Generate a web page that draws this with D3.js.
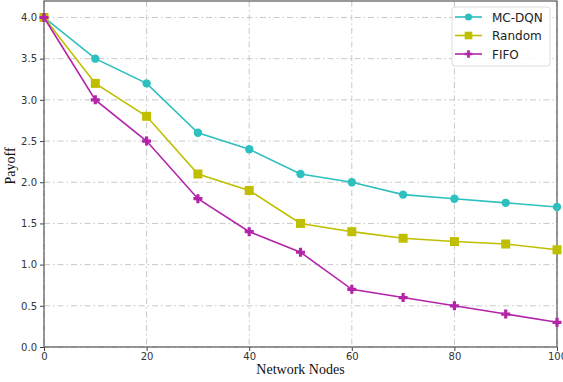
<!DOCTYPE html>
<html>
<head>
<meta charset="utf-8">
<script src="https://cdn.jsdelivr.net/npm/d3@7"></script>
<style>
  body { margin: 0; background: #fff; }
  svg { display: block; }
</style>
</head>
<body>
<div id="chart"></div>
<script>
// data
var nodes = [0, 10, 20, 30, 40, 50, 60, 70, 80, 90, 100];
var mcdqn = [4.0, 3.5, 3.2, 2.6, 2.4, 2.1, 2.0, 1.85, 1.8, 1.75, 1.7];
var random = [4.0, 3.2, 2.8, 2.1, 1.9, 1.5, 1.4, 1.32, 1.28, 1.25, 1.18];
var fifo = [4.0, 3.0, 2.5, 1.8, 1.4, 1.15, 0.7, 0.6, 0.5, 0.4, 0.3];
var xTicks = [0, 20, 40, 60, 80, 100];
var yTicks = [0, 0.5, 1.0, 1.5, 2.0, 2.5, 3.0, 3.5, 4.0];

var series = [
    { name: "MC-DQN", values: mcdqn, color: "#2ebfbf", marker: "circle" },
    { name: "Random", values: random, color: "#bfbf00", marker: "square" },
    { name: "FIFO", values: fifo, color: "#b324a8", marker: "plus" }
];

var margin = { top: 1, right: 6, bottom: 35, left: 44 },
    width = 563 - margin.left - margin.right,
    height = 382 - margin.top - margin.bottom;

var svg = d3.select("#chart")
    .append("svg")
    .attr("width", 563)
    .attr("height", 382)
    .append("g")
    .attr("transform", "translate(" + margin.left + "," + margin.top + ")");

var x = d3.scaleLinear().domain([0, 100]).range([0, width]);
var y = d3.scaleLinear().domain([0, 4.2]).range([height, 0]);

// grid
svg.append("g")
    .selectAll("line")
    .data(xTicks)
    .join("line")
    .attr("x1", d => x(d)).attr("x2", d => x(d))
    .attr("y1", 0).attr("y2", height)
    .attr("stroke", "#c8c8c8")
    .attr("stroke-width", 1)
    .attr("stroke-dasharray", "6,3,1.5,3");
svg.append("g")
    .selectAll("line")
    .data(yTicks)
    .join("line")
    .attr("x1", 0).attr("x2", width)
    .attr("y1", d => y(d)).attr("y2", d => y(d))
    .attr("stroke", "#c8c8c8")
    .attr("stroke-width", 1)
    .attr("stroke-dasharray", "6,3,1.5,3");

// axes
var xAxis = svg.append("g")
    .attr("transform", "translate(0," + height + ")")
    .call(d3.axisBottom(x).tickValues(xTicks).tickSize(4).tickPadding(2));
var yAxis = svg.append("g")
    .call(d3.axisLeft(y).tickValues(yTicks).tickFormat(d3.format(".1f")).tickSize(4).tickPadding(3));
[xAxis, yAxis].forEach(a => {
    a.select(".domain").remove();
    a.selectAll("line").attr("stroke", "#444");
    a.selectAll("text")
        .attr("fill", "#333")
        .style("font-family", "DejaVu Sans")
        .style("font-size", "10px");
});

// frame
svg.append("rect")
    .attr("width", width)
    .attr("height", height)
    .attr("fill", "none")
    .attr("stroke", "#555")
    .attr("stroke-width", 1.2);

var line = d3.line()
    .x((d, i) => x(nodes[i]))
    .y(d => y(d));

var plusPath = "M-1.6,-4.5h3.2v2.9h2.9v3.2h-2.9v2.9h-3.2v-2.9h-2.9v-3.2h2.9z";

function drawMarker(g, s, cx, cy, k) {
    k = k || 1;
    if (s.marker === "circle") {
        g.append("circle").attr("cx", cx).attr("cy", cy).attr("r", 4.2 * k).attr("fill", s.color);
    } else if (s.marker === "square") {
        g.append("rect").attr("x", cx - 4.5 * k).attr("y", cy - 4.5 * k)
            .attr("width", 9 * k).attr("height", 9 * k).attr("fill", s.color);
    } else {
        g.append("path").attr("d", plusPath)
            .attr("transform", "translate(" + cx + "," + cy + ") scale(" + k + ")")
            .attr("fill", s.color);
    }
}

series.forEach(s => {
    svg.append("path")
        .datum(s.values)
        .attr("fill", "none")
        .attr("stroke", s.color)
        .attr("stroke-width", 1.6)
        .attr("d", line);
    var g = svg.append("g");
    s.values.forEach((v, i) => drawMarker(g, s, x(nodes[i]), y(v)));
});

// axis labels
svg.append("text")
    .attr("x", width / 2)
    .attr("y", height + 27)
    .attr("text-anchor", "middle")
    .style("font-family", "Liberation Serif")
    .style("font-size", "14px")
    .attr("fill", "#111")
    .text("Network Nodes");
svg.append("text")
    .attr("transform", "translate(" + (-29) + "," + (height / 2 - 8) + ") rotate(-90)")
    .attr("text-anchor", "middle")
    .style("font-family", "Liberation Serif")
    .style("font-size", "14px")
    .attr("fill", "#111")
    .text("Payoff");

// legend
var lg = svg.append("g").attr("transform", "translate(" + (452 - margin.left) + "," + (7 - margin.top) + ")");
lg.append("rect")
    .attr("width", 98).attr("height", 59).attr("rx", 3)
    .attr("fill", "#fff").attr("fill-opacity", 0.85)
    .attr("stroke", "#ddd");
series.forEach((s, i) => {
    var cy = 10 + i * 18.5;
    lg.append("line")
        .attr("x1", 3).attr("x2", 30).attr("y1", cy).attr("y2", cy)
        .attr("stroke", s.color).attr("stroke-width", 1.6);
    drawMarker(lg, s, 16.5, cy, 0.85);
    lg.append("text")
        .attr("x", 40).attr("y", cy + 4.5)
        .style("font-family", "DejaVu Sans")
        .style("font-size", "12px")
        .attr("fill", "#222")
        .text(s.name);
});
</script>
</body>
</html>
